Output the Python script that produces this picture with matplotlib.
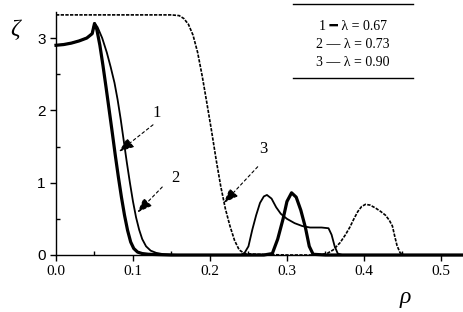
import matplotlib
matplotlib.use("Agg")
import matplotlib.pyplot as plt
from matplotlib.ticker import MultipleLocator

# curve 1, lambda = 0.67 (thick)
rho1 = [0.0, 0.01, 0.02, 0.03, 0.04, 0.047, 0.050, 0.053, 0.057, 0.061, 0.065,
        0.069, 0.073, 0.077, 0.081, 0.085, 0.089, 0.093, 0.097, 0.101, 0.106,
        0.112, 0.12, 0.15, 0.27, 0.281, 0.288, 0.295, 0.300, 0.306, 0.312,
        0.318, 0.324, 0.329, 0.334, 0.35, 0.53]
zeta1 = [2.90, 2.91, 2.93, 2.96, 3.00, 3.06, 3.20, 3.12, 2.90, 2.62, 2.32,
         2.01, 1.70, 1.38, 1.08, 0.80, 0.55, 0.34, 0.18, 0.09, 0.04,
         0.02, 0.01, 0.0, 0.0, 0.02, 0.22, 0.50, 0.74, 0.86, 0.80,
         0.62, 0.38, 0.12, 0.01, 0.0, 0.0]

# curve 2, lambda = 0.73
rho2 = [0.0, 0.01, 0.02, 0.03, 0.04, 0.047, 0.050, 0.054, 0.060, 0.066, 0.071,
        0.076, 0.080, 0.084, 0.088, 0.092, 0.096, 0.100, 0.104, 0.108, 0.112,
        0.117, 0.123, 0.130, 0.14, 0.16, 0.24, 0.245, 0.250, 0.255, 0.260,
        0.265, 0.270, 0.274, 0.280, 0.286, 0.292, 0.300, 0.310, 0.320, 0.330,
        0.345, 0.354, 0.358, 0.362, 0.366, 0.372, 0.53]
zeta2 = [2.90, 2.91, 2.93, 2.96, 3.00, 3.06, 3.21, 3.15, 3.00, 2.80, 2.60,
         2.38, 2.15, 1.88, 1.58, 1.28, 1.00, 0.74, 0.52, 0.35, 0.22,
         0.12, 0.06, 0.03, 0.01, 0.0, 0.0, 0.03, 0.12, 0.35, 0.55,
         0.72, 0.81, 0.83, 0.78, 0.66, 0.57, 0.50, 0.44, 0.40, 0.38,
         0.38, 0.37, 0.28, 0.12, 0.02, 0.0, 0.0]

# curve 3, lambda = 0.90
rho3 = [0.0, 0.05, 0.10, 0.15, 0.16, 0.166, 0.172, 0.178, 0.184, 0.190, 0.196,
        0.202, 0.208, 0.214, 0.220, 0.226, 0.232, 0.238, 0.245, 0.26, 0.30,
        0.34, 0.352, 0.360, 0.369, 0.376, 0.382, 0.387, 0.392, 0.397, 0.402,
        0.408, 0.415, 0.422, 0.428, 0.433, 0.437, 0.440, 0.443, 0.447, 0.452,
        0.53]
zeta3 = [3.32, 3.32, 3.32, 3.32, 3.31, 3.27, 3.19, 3.04, 2.80, 2.47, 2.10,
         1.72, 1.32, 0.95, 0.64, 0.40, 0.20, 0.07, 0.02, 0.01, 0.0,
         0.0, 0.02, 0.07, 0.17, 0.28, 0.39, 0.50, 0.60, 0.67, 0.70,
         0.69, 0.65, 0.60, 0.55, 0.48, 0.40, 0.26, 0.13, 0.03, 0.0,
         0.0]

legend_rows = ["1 \u2501 \u03bb = 0.67", "2 \u2014 \u03bb = 0.73", "3 \u2014 \u03bb = 0.90"]
serif = ["Liberation Serif", "DejaVu Serif"]

fig = plt.figure(figsize=(4.64, 3.12), dpi=100)
ax = fig.add_axes([56 / 464, 57 / 312, 1 - 56 / 464, 243 / 312])

ax.plot(rho1, zeta1, color="black", lw=2.3, clip_on=False, solid_joinstyle="round")
ax.plot(rho2, zeta2, color="black", lw=1.3, clip_on=False)
ax.plot(rho3, zeta3, color="black", lw=1.2, ls=(0, (2, 0.8)), clip_on=False)

ax.set_xlim(0, 0.53)
ax.set_ylim(0, 3.36)
for s in ["top", "right"]:
    ax.spines[s].set_visible(False)
ax.spines["left"].set_linewidth(1.0)
ax.spines["bottom"].set_linewidth(1.0)

ax.xaxis.set_major_locator(MultipleLocator(0.1))
ax.xaxis.set_minor_locator(MultipleLocator(0.05))
ax.yaxis.set_major_locator(MultipleLocator(1))
ax.yaxis.set_minor_locator(MultipleLocator(0.5))
ax.tick_params(which="major", direction="out", length=4, width=1)
ax.tick_params(which="minor", direction="in", length=3, width=1)
ax.set_xticks([0.0, 0.1, 0.2, 0.3, 0.4, 0.5])
ax.set_xticklabels(["0.0", "0.1", "0.2", "0.3", "0.4", "0.5"], family=serif, fontsize=11)
ax.set_yticks([0, 1, 2, 3])
ax.set_yticklabels(["0", "1", "2", "3"], family=["Liberation Sans"], fontsize=11)

fig.text(15 / 464, 1 - 30 / 312, "\u03b6", family=serif, style="italic",
         fontsize=17, ha="center", va="center")
fig.text(405 / 464, 1 - 298 / 312, "\u03c1", family=serif, style="italic",
         fontsize=17, ha="center", va="center")

# legend block
for i, row in enumerate(legend_rows):
    fig.text(353 / 464, 1 - (26 + 18 * i) / 312, row, family=serif + ["DejaVu Sans"],
             fontsize=10, ha="center", va="center")
for yy in (4, 78):
    fig.add_artist(plt.Line2D([293 / 464, 413 / 464], [1 - yy / 312] * 2,
                              color="black", lw=1.0, transform=fig.transFigure))

# labelled arrows
arrows = [("1", (0.082, 1.43), (0.126, 1.80), (0.131, 1.97)),
          ("2", (0.106, 0.59), (0.138, 0.94), (0.155, 1.07)),
          ("3", (0.218, 0.72), (0.262, 1.22), (0.269, 1.46))]
for lab, tip, tail, txt in arrows:
    ax.annotate("", xy=tip, xytext=tail,
                arrowprops=dict(arrowstyle="-|>,head_length=0.9,head_width=0.35",
                                color="black", lw=0.8, ls=(0, (2.5, 2.5)),
                                shrinkA=0, shrinkB=0))
    ax.text(txt[0], txt[1], lab, family=serif, fontsize=12, ha="center", va="center")

fig.savefig("out.png", dpi=100)
